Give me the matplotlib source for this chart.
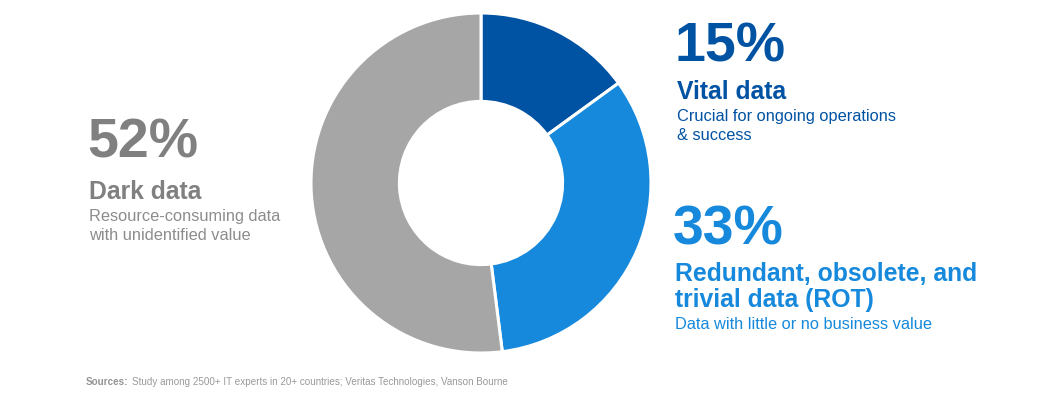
import matplotlib.pyplot as plt

plt.rcParams['font.family'] = ['Liberation Sans', 'DejaVu Sans']

# data
labels = ['Vital data', 'Redundant, obsolete, and trivial data (ROT)', 'Dark data']
shares = [15, 33, 52]
colors = ['#0052A3', '#1689DC', '#A6A6A6']

W, H = 1050, 403
fig = plt.figure(figsize=(W / 100, H / 100), dpi=100)


def fx(px):
    return px / W


def fy(py):
    return 1 - py / H


# donut: centre (481, 183), radius 170 px
cx, cy, r = 481, 183, 170
ax = fig.add_axes([fx(cx - r), fy(cy + r), 2 * r / W, 2 * r / H])
ax.pie(shares, colors=colors, startangle=90, counterclock=False,
       wedgeprops=dict(width=0.52, edgecolor='white', linewidth=2.2))
ax.set_xlim(-1, 1)
ax.set_ylim(-1, 1)
ax.set_aspect('equal')
ax.axis('off')


def block(x, y_big, pct, head, desc, col, desc_col, head_step=37, line=19, head_line=26):
    fig.text(fx(x), fy(y_big), f'{pct}%', fontsize=40, fontweight='bold',
             color=col, va='baseline')
    y = y_big + head_step
    for i, h in enumerate(head):
        fig.text(fx(x + 2), fy(y), h, fontsize=17.8, fontweight='bold',
                 color=col, va='baseline')
        if i < len(head) - 1:
            y += head_line
    y += 22
    for d in desc:
        fig.text(fx(x + 2), fy(y), d, fontsize=11.8, color=desc_col,
                 va='baseline')
        y += line


# Dark data (left)
block(87, 157, shares[2], ['Dark data'],
      ['Resource-consuming data', 'with unidentified value'],
      '#808080', '#8C8C8C', head_step=42)

# Vital data (top right)
block(675, 62, shares[0], ['Vital data'],
      ['Crucial for ongoing operations', '& success'],
      '#0052A3', '#0052A3')

# ROT (bottom right)
block(673, 244, shares[1], ['Redundant, obsolete, and', 'trivial data (ROT)'],
      ['Data with little or no business value'],
      '#1689DC', '#1689DC')

# source line
t = fig.text(fx(86), fy(385), 'Sources:', fontsize=7.1, fontweight='bold',
             color='#949494', va='baseline')
fig.canvas.draw()
bb = t.get_window_extent()
fig.text((bb.x1 + 3) / W, fy(385), 'Study among 2500+ IT experts in 20+ countries; '
         'Veritas Technologies, Vanson Bourne', fontsize=7.1, color='#999999',
         va='baseline')

fig.savefig('out.png', dpi=100, facecolor='white')
